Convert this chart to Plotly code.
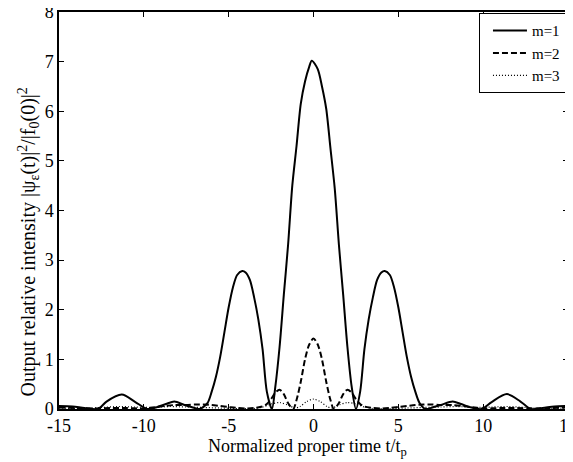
import plotly.graph_objects as go

# ---- data ----
t1 = [-15, -14.2, -13.5, -12.7, -12.2, -11.3, -10.5, -9.8, -9.2, -8.7, -8.2, -7.6, -7.0, -6.7,
      -6.25, -6.0, -5.75, -5.5, -5.25, -5.0, -4.75, -4.5, -4.2, -4.0, -3.75, -3.5, -3.25, -3.0,
      -2.75, -2.45, -2.25, -2.0, -1.75, -1.5, -1.25, -1.0, -0.75, -0.5, -0.25, -0.1, 0.25, 0.5,
      0.75, 1.0, 1.25, 1.5, 1.75, 2.0, 2.25, 2.5, 2.75, 3.0, 3.25, 3.5, 3.75, 4.0, 4.2, 4.5,
      4.75, 5.0, 5.25, 5.5, 5.75, 6.0, 6.25, 6.6, 7.0, 7.5, 8.2, 8.7, 9.3, 9.9, 10.5, 11.4,
      12.2, 12.8, 13.5, 14.2, 15]
y1 = [0.06, 0.05, 0.02, 0.0, 0.15, 0.29, 0.14, 0.0, 0.04, 0.1, 0.15, 0.08, 0.02, 0.0,
      0.12, 0.35, 0.65, 1.05, 1.55, 2.05, 2.45, 2.7, 2.78, 2.75, 2.6, 2.25, 1.8, 1.2,
      0.35, 0.0, 0.45, 1.25, 2.3, 3.3, 4.5, 5.3, 6.15, 6.6, 6.9, 7.02, 6.85, 6.5,
      6.05, 5.25, 4.45, 3.3, 2.3, 1.25, 0.45, 0.0, 0.35, 1.2, 1.8, 2.25, 2.6, 2.75, 2.78, 2.7,
      2.45, 2.05, 1.55, 1.05, 0.65, 0.35, 0.12, 0.0, 0.03, 0.08, 0.15, 0.1, 0.03, 0.0, 0.14, 0.3,
      0.15, 0.0, 0.02, 0.05, 0.06]

t2 = [-15, -14, -13, -12, -11, -10, -9.5, -8.8, -8.2, -7.5, -7.0, -6.5, -6.0, -5.5, -5.0,
      -4.5, -4.0, -3.5, -3.0, -2.75, -2.5, -2.25, -2.0, -1.75, -1.5, -1.2, -1.0, -0.75, -0.5,
      -0.25, 0.0, 0.25, 0.5, 0.75, 1.0, 1.2, 1.5, 1.75, 2.0, 2.25, 2.5, 2.75, 3.0, 3.5, 4.0,
      4.5, 5.0, 5.5, 6.0, 6.5, 7.0, 7.5, 8.2, 8.8, 9.5, 10, 11, 12, 13, 14, 15]
y2 = [0.03, 0.02, 0.01, 0.02, 0.02, 0.01, 0.03, 0.06, 0.08, 0.08, 0.09, 0.09, 0.08, 0.06, 0.04,
      0.02, 0.01, 0.02, 0.05, 0.1, 0.2, 0.33, 0.39, 0.3, 0.12, 0.0, 0.18, 0.55, 1.0,
      1.3, 1.42, 1.3, 1.0, 0.55, 0.18, 0.0, 0.12, 0.3, 0.39, 0.33, 0.2, 0.1, 0.05, 0.02, 0.01,
      0.02, 0.04, 0.06, 0.08, 0.09, 0.09, 0.08, 0.08, 0.06, 0.03, 0.01, 0.02, 0.02, 0.01, 0.02, 0.03]

t3 = [-15, -13.5, -12.5, -11.5, -10.5, -9.5, -8.5, -7.5, -6.5, -5.5, -4.5, -3.5, -3.0, -2.5,
      -2.0, -1.5, -1.1, -0.8, -0.4, 0.0, 0.4, 0.8, 1.1, 1.5, 2.0, 2.5, 3.0, 3.5, 4.5, 5.5,
      6.5, 7.5, 8.5, 9.5, 10.5, 11.5, 12.5, 13.5, 15]
y3 = [0.02, 0.01, 0.03, 0.05, 0.04, 0.03, 0.05, 0.04, 0.03, 0.02, 0.01, 0.01, 0.04, 0.1,
      0.13, 0.08, 0.02, 0.05, 0.15, 0.2, 0.15, 0.05, 0.02, 0.08, 0.13, 0.1, 0.04, 0.01, 0.01, 0.02,
      0.03, 0.04, 0.05, 0.03, 0.04, 0.05, 0.03, 0.01, 0.02]

x_ticks = [-15, -10, -5, 0, 5, 10, 15]
y_ticks = [0, 1, 2, 3, 4, 5, 6, 7, 8]

x_title = "Normalized proper time t/t<sub>p</sub>"
y_title = "Output relative intensity |ψ<sub>ε</sub>(t)|<sup>2</sup>/|f<sub>0</sub>(0)|<sup>2</sup>"

FONT = "Liberation Serif"

fig = go.Figure()
fig.add_trace(go.Scatter(x=t1, y=y1, mode="lines", name="m=1",
                         line=dict(color="black", width=2, shape="spline", smoothing=0.8)))
fig.add_trace(go.Scatter(x=t2, y=y2, mode="lines", name="m=2",
                         line=dict(color="black", width=2, dash="6px,3px", shape="spline", smoothing=0.8)))
fig.add_trace(go.Scatter(x=t3, y=y3, mode="lines", name="m=3",
                         line=dict(color="black", width=1.2, dash="1px,2px", shape="spline", smoothing=0.8)))

axis_common = dict(showline=True, linecolor="black", linewidth=1.5, mirror="ticks",
                   ticks="inside", ticklen=5, tickcolor="black", showgrid=False, zeroline=False,
                   automargin=False, ticklabeloverflow="allow",
                   tickfont=dict(family=FONT, size=18, color="black"))

fig.update_xaxes(range=[-15, 15], tickvals=x_ticks, ticktext=[str(v) for v in x_ticks], **axis_common)
fig.update_yaxes(range=[0, 8], tickvals=y_ticks, ticktext=[str(v) for v in y_ticks], **axis_common)

fig.add_annotation(text=x_title, xref="paper", yref="paper", x=0.489, y=-0.098,
                   xanchor="center", yanchor="middle", showarrow=False,
                   font=dict(family=FONT, size=18, color="black"))
fig.add_annotation(text=y_title, xref="paper", yref="paper", x=-0.059, y=0.422,
                   xanchor="center", yanchor="middle", showarrow=False, textangle=-90,
                   font=dict(family=FONT, size=20, color="black"))

# the page body adds an 8px margin, so the figure is sized to fill the rest of the window
fig.update_layout(
    template="none",
    width=565, height=454,
    margin=dict(l=51, r=5, t=4, b=53),
    paper_bgcolor="white", plot_bgcolor="white",
    showlegend=True,
    legend=dict(x=0.996, y=0.997, xanchor="right", yanchor="top",
                bgcolor="white", bordercolor="black", borderwidth=1,
                font=dict(family=FONT, size=15, color="black"),
                tracegroupgap=0, itemwidth=34, indentation=8),
)

fig.write_html("out.html")
